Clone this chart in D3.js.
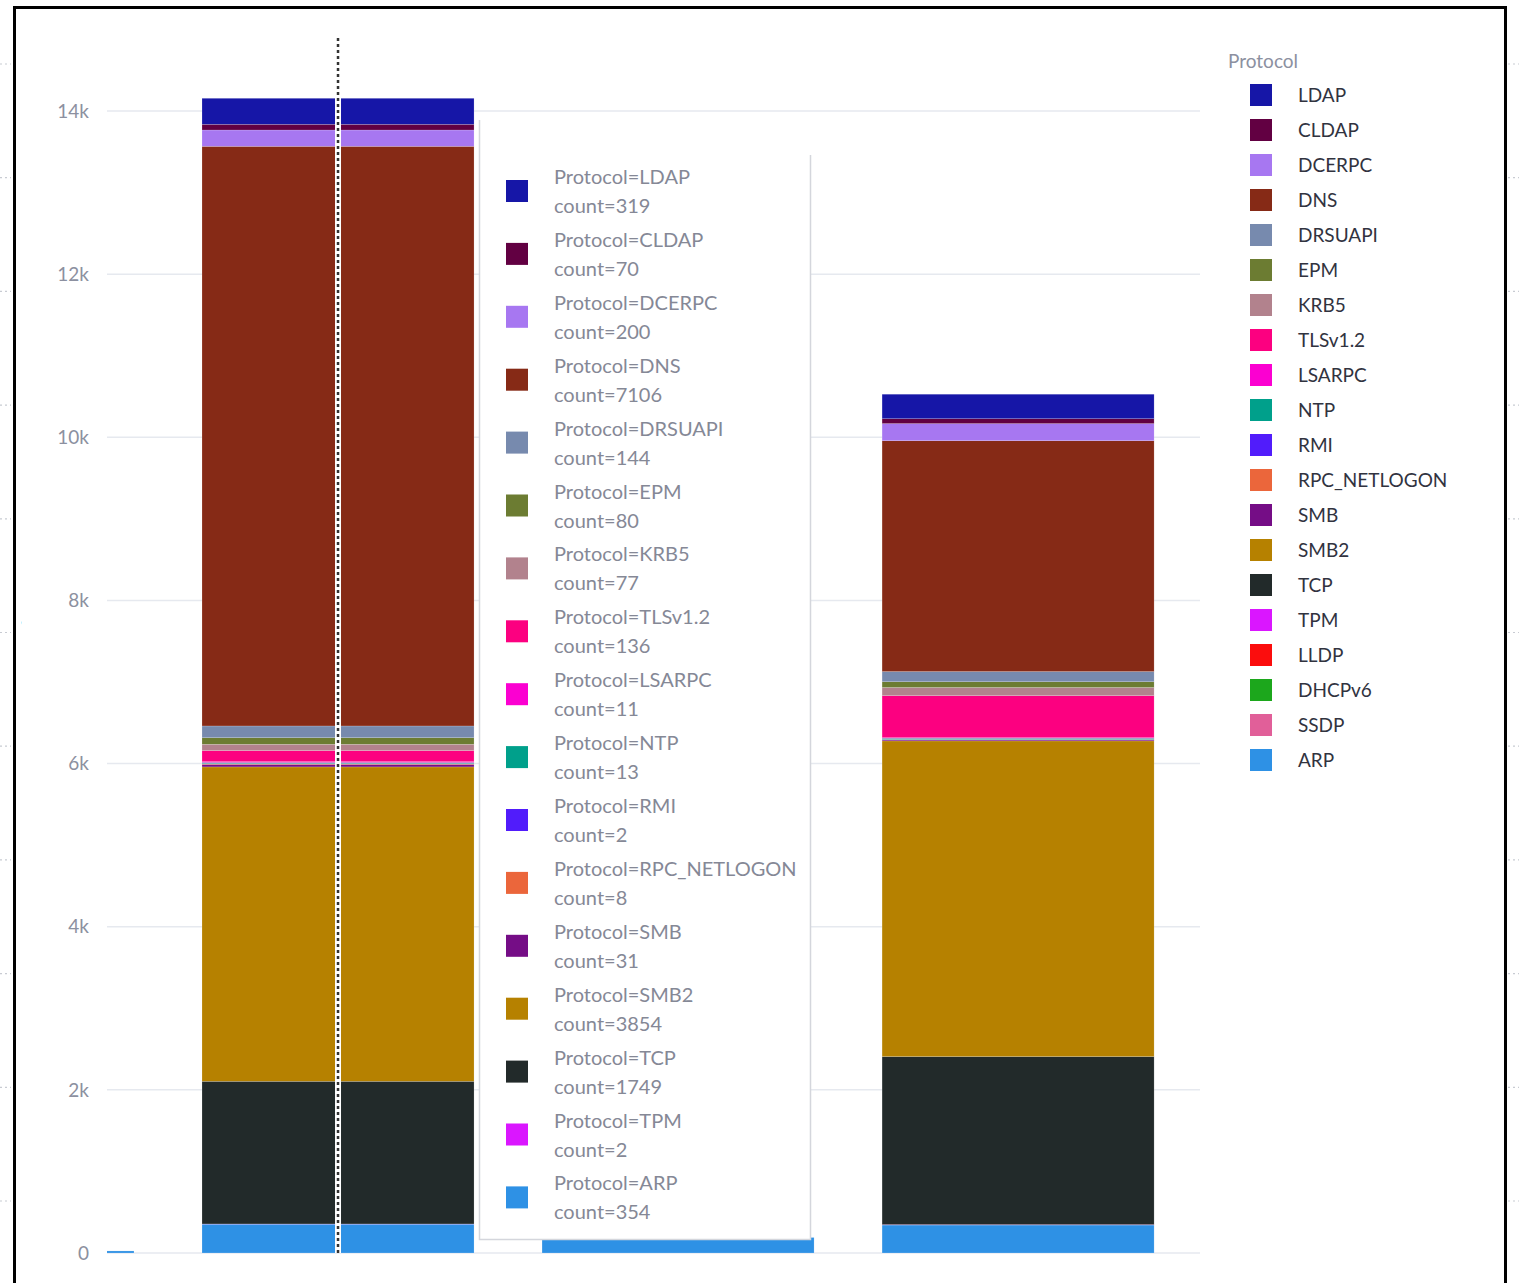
<!DOCTYPE html>
<html>
<head>
<meta charset="utf-8">
<script src="https://cdn.jsdelivr.net/npm/d3@7"></script>
<style>
  html, body { margin: 0; padding: 0; background: #fff; }
  svg { display: block; font-family: "Lato", "Noto Sans", sans-serif; }
</style>
</head>
<body>
<div id="chart"></div>
<script>
// chart size, same as the window
const width = 1519;
const height = 1283;

// protocols, in legend order (top of the stack first)
const protocols = ["LDAP", "CLDAP", "DCERPC", "DNS", "DRSUAPI", "EPM", "KRB5", "TLSv1.2", "LSARPC",
  "NTP", "RMI", "RPC_NETLOGON", "SMB", "SMB2", "TCP", "TPM", "LLDP", "DHCPv6", "SSDP", "ARP"];
const protocolColors = ["#1616A7", "#620042", "#A777F1", "#862A16", "#778AAE", "#6C7C32", "#B2828D", "#FC0080", "#FB00D1",
  "#00A08B", "#511CFB", "#EB663B", "#750D86", "#B68100", "#222A2A", "#DA16FF", "#FB0D0D", "#1CA71C", "#E15F99", "#2E91E5"];

// the x bins (no labels visible in the picture)
const bins = [0, 1, 2, 3];

// counts per bin, one array per protocol (bins 0..3)
const LDAP = [0, 319, 0, 300];
const CLDAP = [0, 70, 0, 60];
const DCERPC = [0, 200, 0, 210];
const DNS = [0, 7106, 0, 2830];
const DRSUAPI = [0, 144, 0, 125];
const EPM = [0, 80, 0, 70];
const KRB5 = [0, 77, 0, 100];
const TLS = [0, 136, 0, 515];
const LSARPC = [0, 11, 0, 8];
const NTP = [0, 13, 0, 15];
const RMI = [0, 2, 0, 0];
const RPC_NETLOGON = [0, 8, 0, 5];
const SMB = [0, 31, 0, 12];
const SMB2 = [0, 3854, 0, 3870];
const TCP = [0, 1749, 0, 2060];
const TPM = [0, 2, 0, 5];
const LLDP = [0, 0, 0, 0];
const DHCPv6 = [0, 0, 0, 0];
const SSDP = [0, 0, 0, 0];
const ARP = [25, 354, 190, 343];

// the hovered bin and the y ticks
const hoverBin = 1;
const yTicks = [0, 2000, 4000, 6000, 8000, 10000, 12000, 14000];

const seriesByName = {
  "LDAP": LDAP, "CLDAP": CLDAP, "DCERPC": DCERPC, "DNS": DNS, "DRSUAPI": DRSUAPI, "EPM": EPM, "KRB5": KRB5,
  "TLSv1.2": TLS, "LSARPC": LSARPC, "NTP": NTP, "RMI": RMI, "RPC_NETLOGON": RPC_NETLOGON, "SMB": SMB,
  "SMB2": SMB2, "TCP": TCP, "TPM": TPM, "LLDP": LLDP, "DHCPv6": DHCPv6, "SSDP": SSDP, "ARP": ARP
};

// one row per bin for d3.stack
const table = bins.map((b, i) => {
  const row = { bin: b };
  protocols.forEach(p => { row[p] = seriesByName[p][i]; });
  return row;
});

const color = d3.scaleOrdinal().domain(protocols).range(protocolColors);

// plot area
const plotLeft = 107, plotRight = 1200, plotBottom = 1253;

// the first bin sits mostly left of the plot area, as in the picture
const x = d3.scaleLinear()
  .domain([0.3206, 3.535])
  .range([plotLeft, plotRight]);
const barWidth = 0.8 * (x(1) - x(0));

const y = d3.scaleLinear()
  .domain([0, 14000])
  .range([plotBottom, 111]);

const svg = d3.select("#chart")
  .append("svg")
    .attr("width", width)
    .attr("height", height);

// faint dotted lines of the page behind the frame
const bgRows = d3.range(0, 11).map(k => 64 + 113.7 * k);
svg.append("g")
  .selectAll("line")
  .data(bgRows.flatMap(v => [[0, 11, v], [1508, 1519, v]]))
  .join("line")
    .attr("x1", d => d[0]).attr("x2", d => d[1])
    .attr("y1", d => d[2]).attr("y2", d => d[2])
    .attr("stroke", "#c8cbd2")
    .attr("stroke-width", 1.2)
    .attr("stroke-dasharray", "2,3");

// gridlines
svg.append("g")
  .selectAll("line")
  .data(yTicks)
  .join("line")
    .attr("x1", plotLeft).attr("x2", plotRight)
    .attr("y1", d => y(d)).attr("y2", d => y(d))
    .attr("stroke", "#e6e9ef")
    .attr("stroke-width", 1.5);

// y tick labels
svg.append("g")
  .selectAll("text")
  .data(yTicks)
  .join("text")
    .attr("x", 89)
    .attr("y", d => y(d))
    .attr("dy", "0.35em")
    .attr("text-anchor", "end")
    .attr("fill", "#8c90a0")
    .style("font-size", "19px")
    .text(d => d === 0 ? "0" : d3.format("~s")(d));

// y axis title, cut off by the screenshot edge
svg.append("clipPath")
  .attr("id", "titleClip")
  .append("rect")
    .attr("x", 16).attr("y", 0)
    .attr("width", 100).attr("height", height);
svg.append("text")
  .attr("clip-path", "url(#titleClip)")
  .attr("transform", "translate(21,644) rotate(-90)")
  .attr("text-anchor", "middle")
  .attr("fill", "#5c6070")
  .style("font-size", "19px")
  .text("count");

// stacked bars, ARP at the bottom
svg.append("clipPath")
  .attr("id", "plotClip")
  .append("rect")
    .attr("x", plotLeft).attr("y", 0)
    .attr("width", plotRight - plotLeft).attr("height", plotBottom + 1);

const stack = d3.stack().keys(protocols.slice().reverse());
const layers = stack(table);

svg.append("g")
  .attr("clip-path", "url(#plotClip)")
  .selectAll("g")
  .data(layers)
  .join("g")
    .attr("fill", d => color(d.key))
  .selectAll("rect")
  .data(d => d.filter(s => s[1] > s[0]))
  .join("rect")
    .attr("x", d => x(d.data.bin) - barWidth / 2)
    .attr("width", barWidth)
    .attr("y", d => y(d[1]))
    .attr("height", d => y(d[0]) - y(d[1]))
    .attr("stroke", "rgba(255,255,255,0.35)")
    .attr("stroke-width", 0.5);

// hover spike line
const spikeX = x(hoverBin);
svg.append("line")
  .attr("x1", spikeX).attr("x2", spikeX)
  .attr("y1", 38).attr("y2", plotBottom)
  .attr("stroke", "#fff")
  .attr("stroke-width", 6);
svg.append("line")
  .attr("x1", spikeX).attr("x2", spikeX)
  .attr("y1", 38).attr("y2", plotBottom)
  .attr("stroke", "#333")
  .attr("stroke-width", 2.5)
  .attr("stroke-dasharray", "3,3");

// hover tooltip for the hovered bin
const hoverItems = protocols.filter(p => seriesByName[p][hoverBin] > 0);
const tip = svg.append("g");
tip.append("rect")
  .attr("x", 479).attr("y", 116)
  .attr("width", 331).attr("height", 1123)
  .attr("fill", "#fff");
tip.append("path")
  .attr("d", "M479.5,120 V1239.5 H810.5 V155")
  .attr("fill", "none")
  .attr("stroke", "#d4d6dc")
  .attr("stroke-width", 1.5);

const tipRow = tip.selectAll("g")
  .data(hoverItems)
  .join("g")
    .attr("transform", (d, i) => `translate(0,${177 + 62.9 * i})`);
tipRow.append("rect")
  .attr("x", 506).attr("y", 3)
  .attr("width", 22).attr("height", 22)
  .attr("fill", d => color(d));
tipRow.append("text")
  .attr("x", 554).attr("y", 0)
  .attr("dy", "0.35em")
  .attr("fill", "#858896")
  .style("font-size", "20px")
  .text(d => "Protocol=" + d);
tipRow.append("text")
  .attr("x", 554).attr("y", 29)
  .attr("dy", "0.35em")
  .attr("fill", "#858896")
  .style("font-size", "20px")
  .text(d => "count=" + seriesByName[d][hoverBin]);

// legend
const legend = svg.append("g");
legend.append("text")
  .attr("x", 1228).attr("y", 61)
  .attr("dy", "0.35em")
  .attr("fill", "#8c90a0")
  .style("font-size", "19px")
  .text("Protocol");

const legendRow = legend.selectAll("g")
  .data(protocols)
  .join("g")
    .attr("transform", (d, i) => `translate(0,${95 + 35 * i})`);
legendRow.append("rect")
  .attr("x", 1250).attr("y", -11)
  .attr("width", 22).attr("height", 22)
  .attr("fill", d => color(d));
legendRow.append("text")
  .attr("x", 1298).attr("y", 0)
  .attr("dy", "0.35em")
  .attr("fill", "#31333f")
  .style("font-size", "19px")
  .text(d => d);

// black frame of the screenshot
svg.append("rect")
  .attr("x", 14.5).attr("y", 7.5)
  .attr("width", 1491).attr("height", 1300)
  .attr("fill", "none")
  .attr("stroke", "#000")
  .attr("stroke-width", 3);
</script>
</body>
</html>
